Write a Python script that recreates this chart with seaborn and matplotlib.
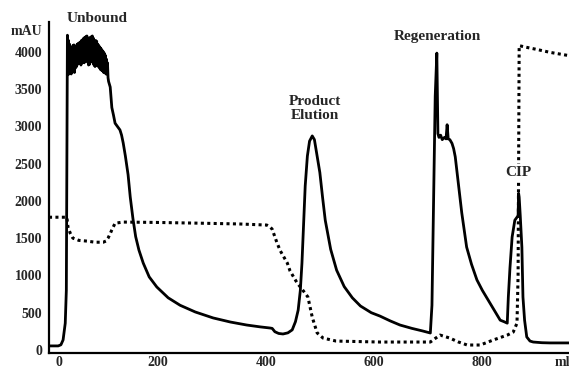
import numpy as np
import pandas as pd
import matplotlib
matplotlib.use("Agg")
import matplotlib.pyplot as plt
import matplotlib.transforms as mtransforms
import seaborn as sns

# ---- data ----
start_ml = [0, 10, 17, 22, 26, 30, 32, 33]
start_mau = [55, 55, 55, 70, 135, 360, 800, 2500]

plateau_ml = list(range(34, 111))
plateau_mau = [4220, 3690, 4150, 3700, 4100, 3720, 4060, 3700, 4050, 3760,
               4080, 3750, 4090, 3720, 4060, 3780, 4070, 3800, 4100, 3830,
               4110, 3850, 4120, 3840, 4130, 3820, 4150, 3850, 4160, 3860,
               4180, 3850, 4190, 3870, 4200, 3880, 4210, 3860, 4170, 3820,
               4150, 3830, 4190, 3870, 4200, 3880, 4210, 3850, 4180, 3820,
               4130, 3800, 4150, 3820, 4140, 3830, 4100, 3800, 4080, 3780,
               4060, 3760, 4040, 3750, 4020, 3740, 4000, 3720, 3980, 3720,
               3950, 3700, 3900, 3700, 3850, 3650, 3600]

rest_ml = [113, 116, 119, 122, 126, 131, 134, 137, 141, 146, 150, 155, 160, 166, 174, 185,
           199, 220, 242, 270, 303, 335, 365, 390, 408, 412, 417, 424, 432, 441, 449, 455,
           460, 464, 467, 470, 473, 477, 481, 486, 490, 495, 500, 505, 510, 520, 531, 545,
           560, 575, 595, 611, 630, 648, 670, 690, 704, 707, 710, 713, 716, 718, 720, 723,
           726, 730, 733, 735, 737, 740, 744, 747, 750, 755, 762, 771, 780, 790, 800, 814,
           820, 827, 833, 840, 846, 848, 851, 855, 860, 864, 866, 867, 868, 870, 873, 875,
           878, 882, 888, 894, 910, 925, 960]
rest_mau = [3525, 3250, 3150, 3040, 3000, 2950, 2880, 2775, 2600, 2350, 2050, 1760, 1520,
            1340, 1165, 980, 845, 700, 600, 510, 430, 375, 335, 310, 295, 290, 245, 222, 215,
            230, 270, 380, 535, 800, 1165, 1700, 2200, 2600, 2800, 2870, 2820, 2600, 2380,
            2050, 1740, 1350, 1070, 850, 700, 590, 500, 455, 390, 335, 290, 255, 228, 600,
            2000, 3400, 3980, 2900, 2850, 2880, 2820, 2850, 2830, 3020, 2830, 2820, 2770,
            2700, 2590, 2280, 1840, 1380, 1150, 940, 800, 630, 560, 470, 400, 380, 360, 710,
            1100, 1515, 1740, 1780, 1800, 2100, 2050, 1800, 1380, 710, 400, 175, 120, 107,
            98, 95, 95]

cond_ml = [0, 33, 35, 39, 44, 55, 70, 85, 100, 105, 109, 113, 116, 122, 137, 200, 279,
           350, 402, 408, 412, 421, 427, 440, 445, 458, 464, 473, 478, 482, 486, 495, 506,
           530, 611, 704, 712, 722, 740, 755, 772, 796, 808, 820, 846, 857, 864, 866, 867,
           868, 880, 900, 925, 957]
cond_val = [1780, 1780, 1650, 1570, 1500, 1470, 1460, 1445, 1445, 1460, 1500, 1560, 1610,
            1700, 1715, 1710, 1700, 1690, 1675, 1650, 1620, 1435, 1330, 1165, 1060, 900,
            845, 760, 710, 575, 440, 230, 160, 120, 107, 107, 150, 200, 160, 110, 67, 67,
            100, 134, 200, 240, 360, 1000, 2500, 4080, 4060, 4030, 3990, 3950]

x_ticks = [0, 200, 400, 600, 800]
y_ticks = [0, 500, 1000, 1500, 2000, 2500, 3000, 3500, 4000]

labels = ["Unbound", "Product\nElution", "Regeneration", "CIP"]
label_x = [88.6, 491, 716.5, 866]
label_y = [4450, 3237, 4196, 2386]

uv = pd.DataFrame({"ml": start_ml + plateau_ml + rest_ml,
                   "mAU": start_mau + plateau_mau + rest_mau})
cond = pd.DataFrame({"ml": cond_ml, "val": cond_val})

# ---- plot ----
sns.set_style("white")
plt.rcParams["font.family"] = ["Liberation Serif", "DejaVu Serif"]
plt.rcParams["font.weight"] = "bold"

fig = plt.figure(figsize=(5.69, 3.71), dpi=100)
ax = fig.add_axes([49 / 569, 1 - 353 / 371, 520 / 569, 331 / 371])

sns.lineplot(data=cond, x="ml", y="val", ax=ax, estimator=None, sort=False,
             color="black", lw=2.2, linestyle=(0, (1, 1.1)))
ax.lines[-1].set_dash_capstyle("butt")
sns.lineplot(data=uv, x="ml", y="mAU", ax=ax, estimator=None, sort=False,
             color="black", lw=2.0)

ax.set_xlim(0, 960)
ax.set_ylim(-40, 4397)
ax.set_xticks(x_ticks)
ax.set_yticks(y_ticks)
ax.set_xlabel("")
ax.set_ylabel("")
ax.tick_params(axis="x", length=0, labelsize=10, pad=2)
ax.tick_params(axis="y", length=0, labelsize=10, pad=5)
for lab in ax.get_xticklabels() + ax.get_yticklabels():
    lab.set_fontweight("bold")
# first x tick label sits slightly right of the axis line in the reference
offset = mtransforms.ScaledTranslation(10 / 100, 0, fig.dpi_scale_trans)
xl = ax.get_xticklabels()
xl[0].set_transform(xl[0].get_transform() + offset)

for side in ["top", "right"]:
    ax.spines[side].set_visible(False)
for side in ["left", "bottom"]:
    ax.spines[side].set_color("black")
    ax.spines[side].set_linewidth(1.6)

ax.text(-7 / 0.5415, 4263, "mAU", ha="right", va="center", fontsize=10,
        fontweight="bold", clip_on=False)
ml_t = ax.text(947, -40, "ml", ha="center", va="top", fontsize=10, fontweight="bold",
               clip_on=False)
ml_t.set_transform(ax.transData + mtransforms.ScaledTranslation(0, -2 / 72, fig.dpi_scale_trans))

for t, x, y in zip(labels, label_x, label_y):
    kw = {}
    if t == "CIP":
        kw["bbox"] = dict(facecolor="white", edgecolor="none", pad=1)
    ax.text(x, y, t, ha="center", va="center", fontsize=11, fontweight="bold",
            multialignment="center", linespacing=1.15, clip_on=False, zorder=10, **kw)

fig.savefig("out.png", dpi=100)
